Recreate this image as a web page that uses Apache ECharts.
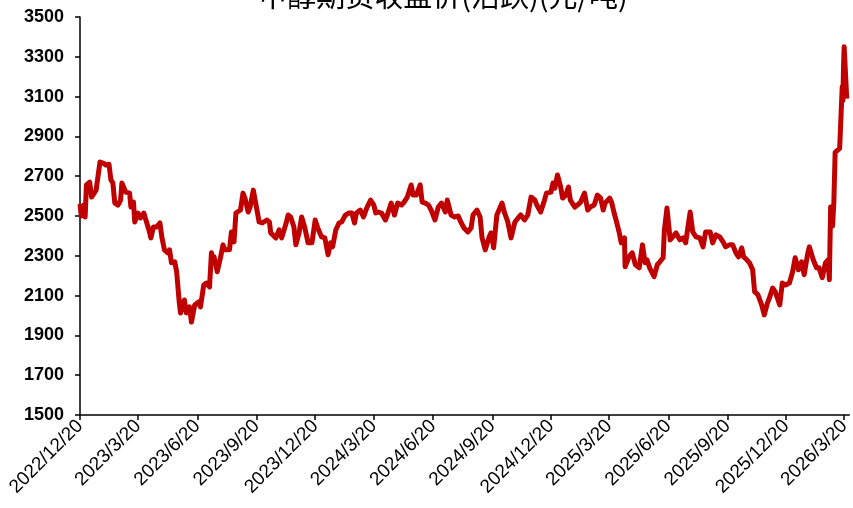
<!DOCTYPE html>
<html>
<head>
<meta charset="utf-8">
<script src="https://cdn.jsdelivr.net/npm/echarts@6/dist/echarts.min.js"></script>
<style>
html,body{margin:0;padding:0;background:#fff;}
#chart{width:853px;height:508px;}
</style>
</head>
<body>
<div id="chart"></div>
<script>
var titleText = '甲醇期货收盘价(活跃)(元/吨)';
var tickLabels = ['2022/12/20','2023/3/20','2023/6/20','2023/9/20','2023/12/20','2024/3/20','2024/6/20','2024/9/20','2024/12/20','2025/3/20','2025/6/20','2025/9/20','2025/12/20','2026/3/20'];
var dates = [
'2022-12-20','2022-12-22','2022-12-26','2022-12-28','2022-12-30','2023-01-04','2023-01-07','2023-01-14','2023-01-17','2023-01-20',
'2023-01-25','2023-01-29','2023-02-03','2023-02-06','2023-02-09','2023-02-12','2023-02-17','2023-02-21','2023-02-23','2023-03-01',
'2023-03-07','2023-03-09','2023-03-13','2023-03-15','2023-03-20','2023-03-24','2023-03-29','2023-04-01','2023-04-06','2023-04-09',
'2023-04-13','2023-04-18','2023-04-23','2023-04-26','2023-04-30','2023-05-05','2023-05-08','2023-05-11','2023-05-16','2023-05-19',
'2023-05-23','2023-05-25','2023-05-31','2023-06-03','2023-06-08','2023-06-11','2023-06-16','2023-06-22','2023-06-25','2023-06-30',
'2023-07-04','2023-07-09','2023-07-12','2023-07-15','2023-07-16','2023-07-21','2023-07-26','2023-07-30','2023-08-02','2023-08-09',
'2023-08-12','2023-08-16','2023-08-19','2023-08-26','2023-08-30','2023-09-02','2023-09-07','2023-09-10','2023-09-15','2023-09-18',
'2023-09-24','2023-09-29','2023-10-06','2023-10-10','2023-10-12','2023-10-20','2023-10-25','2023-10-29','2023-11-05','2023-11-08',
'2023-11-12','2023-11-17','2023-11-20','2023-11-25','2023-11-29','2023-12-04','2023-12-09','2023-12-15','2023-12-20','2023-12-24',
'2023-12-30','2024-01-04','2024-01-09','2024-01-13','2024-01-16','2024-01-21','2024-01-26','2024-01-30','2024-02-05','2024-02-10',
'2024-02-15','2024-02-19','2024-02-22','2024-02-28','2024-03-04','2024-03-09','2024-03-15','2024-03-20','2024-03-23','2024-03-27',
'2024-04-01','2024-04-07','2024-04-10','2024-04-16','2024-04-21','2024-04-26','2024-05-02','2024-05-06','2024-05-11','2024-05-17',
'2024-05-20','2024-05-25','2024-05-31','2024-06-03','2024-06-08','2024-06-13','2024-06-17','2024-06-23','2024-06-28','2024-07-03',
'2024-07-09','2024-07-12','2024-07-18','2024-07-23','2024-07-29','2024-08-02','2024-08-07','2024-08-13','2024-08-18','2024-08-21',
'2024-08-27','2024-09-01','2024-09-04','2024-09-09','2024-09-15','2024-09-18','2024-09-22','2024-09-27','2024-10-05','2024-10-09',
'2024-10-14','2024-10-19','2024-10-25','2024-10-30','2024-11-03','2024-11-09','2024-11-14','2024-11-19','2024-11-25','2024-11-28',
'2024-12-04','2024-12-09','2024-12-13','2024-12-20','2024-12-23','2024-12-26','2024-12-30','2025-01-04','2025-01-07','2025-01-12',
'2025-01-16','2025-01-19','2025-01-26','2025-01-30','2025-02-04','2025-02-10','2025-02-15','2025-02-19','2025-02-25','2025-03-02',
'2025-03-07','2025-03-11','2025-03-14','2025-03-21','2025-03-24','2025-03-28','2025-03-31','2025-04-05','2025-04-08','2025-04-13',
'2025-04-14','2025-04-20','2025-04-25','2025-04-30','2025-05-06','2025-05-11','2025-05-15','2025-05-18','2025-05-22','2025-05-29',
'2025-06-03','2025-06-07','2025-06-12','2025-06-14','2025-06-18','2025-06-23','2025-06-27','2025-07-02','2025-07-08','2025-07-13',
'2025-07-17','2025-07-21','2025-07-24','2025-07-28','2025-08-02','2025-08-08','2025-08-13','2025-08-17','2025-08-24','2025-08-28',
'2025-09-02','2025-09-08','2025-09-13','2025-09-17','2025-09-23','2025-09-28','2025-10-03','2025-10-07','2025-10-12','2025-10-15',
'2025-10-20','2025-10-24','2025-10-29','2025-11-01','2025-11-06','2025-11-09','2025-11-12','2025-11-16','2025-11-21','2025-11-24',
'2025-11-29','2025-12-03','2025-12-10','2025-12-14','2025-12-19','2025-12-25','2025-12-30','2026-01-03','2026-01-08','2026-01-13',
'2026-01-17','2026-01-22','2026-01-25','2026-01-31','2026-02-05','2026-02-09','2026-02-14','2026-02-19','2026-02-23','2026-02-25',
'2026-02-27','2026-03-02','2026-03-04','2026-03-06','2026-03-09','2026-03-13','2026-03-16','2026-03-17','2026-03-18','2026-03-19',
'2026-03-20','2026-03-23','2026-03-24'
];
var prices = [
2560,2500,2555,2495,2656,2670,2595,2630,2620,2771,
2766,2756,2760,2681,2666,2565,2555,2580,2666,2620,
2615,2545,2570,2470,2515,2490,2515,2515,2430,2390,
2445,2445,2465,2395,2330,2315,2330,2265,2270,2220,
2068,2013,2078,2013,2043,1967,2053,2068,2043,2153,
2163,2143,2315,2265,2295,2220,2290,2355,2330,2330,
2420,2370,2515,2530,2615,2590,2520,2545,2630,2630,
2470,2465,2480,2470,2415,2390,2430,2390,2465,2505,
2495,2445,2355,2415,2495,2440,2365,2365,2480,2440,
2395,2390,2305,2365,2345,2430,2465,2470,2505,2515,
2515,2465,2515,2530,2495,2540,2580,2555,2515,2520,
2515,2480,2505,2565,2505,2565,2555,2570,2595,2656,
2605,2605,2656,2570,2565,2555,2530,2480,2545,2565,
2520,2580,2505,2495,2500,2470,2440,2420,2440,2505,
2530,2495,2390,2330,2395,2415,2340,2505,2565,2515,
2470,2390,2470,2490,2505,2480,2505,2595,2580,2555,
2520,2570,2615,2620,2666,2640,2706,2646,2590,2605,
2646,2580,2545,2555,2570,2615,2530,2545,2555,2605,
2590,2530,2565,2590,2570,2515,2480,2415,2365,2390,
2245,2295,2315,2255,2240,2355,2265,2280,2240,2195,
2255,2270,2290,2430,2540,2380,2395,2415,2380,2390,
2365,2455,2520,2420,2395,2390,2345,2420,2420,2365,
2405,2395,2370,2345,2355,2355,2315,2295,2340,2295,
2280,2265,2230,2120,2105,2115,2053,2003,2063,2088,
2138,2120,2053,2163,2153,2163,2220,2290,2230,2270,
2205,2305,2345,2280,2240,2240,2190,2265,2280,2180,
2545,2450,2570,2820,2810,2840,2850,3150,3080,3250,
3350,3340,3090
];

function toTime(s) {
  var p = s.split(/[\/-]/);
  return Date.UTC(+p[0], +p[1] - 1, +p[2]);
}
var tickTimes = tickLabels.map(toTime);
var seriesData = dates.map(function (d, i) { return [toTime(d), prices[i]]; });

var chart = echarts.init(document.getElementById('chart'));
var axisFont = "'Liberation Sans',Arial,sans-serif";
chart.setOption({
  animation: false,
  backgroundColor: '#ffffff',
  graphic: [{
    type: 'text',
    x: 443,
    y: 10,
    silent: true,
    style: {
      text: titleText,
      fontFamily: "'Noto Sans CJK SC',sans-serif",
      fontSize: 29,
      fill: '#000',
      align: 'center',
      verticalAlign: 'bottom'
    }
  }],
  grid: { left: 80, right: 0, top: 17, bottom: 93, containLabel: false },
  xAxis: {
    type: 'value',
    min: toTime('2022-12-20'),
    max: toTime('2026-03-28'),
    scale: true,
    splitLine: { show: false },
    axisLine: { show: true, onZero: false, lineStyle: { color: '#000', width: 1.5 } },
    axisTick: { show: true, length: 5, lineStyle: { color: '#000', width: 1.5 }, customValues: tickTimes },
    axisLabel: {
      customValues: tickTimes,
      rotate: 45,
      margin: 8,
      color: '#000',
      fontFamily: axisFont,
      fontSize: 19,
      formatter: function (v) {
        var i = tickTimes.indexOf(v);
        return i >= 0 ? tickLabels[i] : '';
      }
    }
  },
  yAxis: {
    type: 'value',
    min: 1500,
    max: 3500,
    interval: 200,
    splitLine: { show: false },
    axisLine: { show: true, lineStyle: { color: '#000', width: 1.5 } },
    axisTick: { show: true, inside: false, length: 5, lineStyle: { color: '#000', width: 1.5 } },
    axisLabel: {
      color: '#000',
      fontFamily: axisFont,
      fontWeight: 'bold',
      fontSize: 18,
      margin: 16,
      formatter: function (v) { return String(v); }
    }
  },
  series: [{
    type: 'line',
    data: seriesData,
    showSymbol: false,
    symbol: 'none',
    lineStyle: { color: '#C00000', width: 5, join: 'round' },
    itemStyle: { color: '#C00000' }
  }]
});
</script>
</body>
</html>
